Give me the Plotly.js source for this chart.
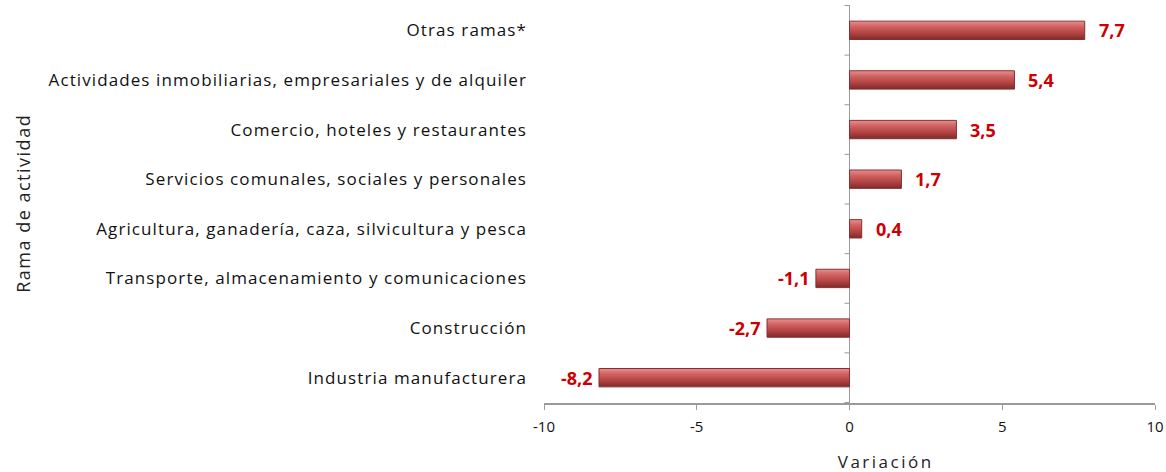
<!DOCTYPE html>
<html>
<head>
<meta charset="utf-8">
<script src="https://cdn.plot.ly/plotly-3.0.1.min.js"></script>
<style>
  body { margin: 0; background: #fff; }
  #chart { width: 1166px; height: 472px; }
  /* el original tiene las letras bastante espaciadas */
  #chart .ytick text { letter-spacing: 1.1px; }
</style>
</head>
<body>
<div id="chart"></div>
<script>
// ramas de actividad, de arriba hacia abajo
var ramas = [
  'Otras ramas*',
  'Actividades inmobiliarias, empresariales y de alquiler',
  'Comercio, hoteles y restaurantes',
  'Servicios comunales, sociales y personales',
  'Agricultura, ganadería, caza, silvicultura y pesca',
  'Transporte, almacenamiento y comunicaciones',
  'Construcción',
  'Industria manufacturera'
];
var variacion = [7.7, 5.4, 3.5, 1.7, 0.4, -1.1, -2.7, -8.2];
var xTicks = [-10, -5, 0, 5, 10];

var trace = {
  type: 'bar',
  orientation: 'h',
  x: variacion,
  y: ramas,
  marker: {
    color: '#bd4a4a',
    line: { color: '#873030', width: 1 }
  },
  hoverinfo: 'x+y'
};

// etiquetas de valor, separadas del extremo de la barra
var annotations = [];
for (var k = 0; k < variacion.length; k++) {
  var v = variacion[k];
  annotations.push({
    x: v, y: ramas[k], xref: 'x', yref: 'y',
    text: v.toFixed(1).replace('.', ','),
    showarrow: false,
    xanchor: v >= 0 ? 'left' : 'right',
    xshift: v >= 0 ? 12 : -4,
    font: { family: 'Open Sans, sans-serif', size: 18, color: '#cc0000', weight: 'bold' }
  });
}
annotations.push({
  xref: 'paper', yref: 'paper', x: (23 - 544) / 611, y: 0.5,
  xanchor: 'center', yanchor: 'middle',
  text: 'Rama de actividad', textangle: -90, showarrow: false,
  font: { size: 18, color: '#222' }
});
annotations.push({
  xref: 'paper', yref: 'paper', x: (885 - 544) / 611, y: -(461 - 403) / 398,
  xanchor: 'center', yanchor: 'middle',
  text: 'Variación', showarrow: false,
  font: { size: 17, color: '#222' }
});

// pequeñas marcas del eje vertical (sobre el cero, entre categorias)
var shapes = [];
for (var i = 0; i <= ramas.length; i++) {
  shapes.push({
    type: 'line',
    xref: 'x', yref: 'y',
    xsizemode: 'pixel', xanchor: 0,
    x0: -5, x1: 0,
    y0: i - 0.5, y1: i - 0.5,
    line: { color: '#9a9a9a', width: 1 }
  });
}

var layout = {
  width: 1166,
  height: 472,
  margin: { l: 544, r: 11, t: 5, b: 69 },
  paper_bgcolor: '#ffffff',
  plot_bgcolor: '#ffffff',
  separators: ',.',
  showlegend: false,
  bargap: 0.63,
  font: { family: 'Open Sans, sans-serif', size: 15, color: '#111' },
  xaxis: {
    range: [-10, 10],
    tickvals: xTicks,
    ticktext: xTicks.map(String),
    showgrid: false,
    zeroline: true,
    zerolinecolor: '#9a9a9a',
    zerolinewidth: 1.5,
    showline: true,
    linecolor: '#9a9a9a',
    linewidth: 1.5,
    ticks: 'outside',
    ticklen: 5,
    tickcolor: '#9a9a9a',
    ticklabelstandoff: 4,
    tickfont: { size: 15, color: '#111' }
  },
  yaxis: {
    type: 'category',
    autorange: 'reversed',
    showgrid: false,
    showline: false,
    zeroline: false,
    ticks: '',
    ticklabelstandoff: 16,
    tickfont: { size: 17, color: '#111' }
  },
  annotations: annotations,
  shapes: shapes
};

Plotly.newPlot('chart', [trace], layout, { displayModeBar: false, staticPlot: true }).then(function (gd) {
  // degradado vertical en las barras para imitar el relieve del original
  var svg = gd.querySelector('.main-svg');
  var ns = 'http://www.w3.org/2000/svg';
  var defs = svg.querySelector('defs') || svg.insertBefore(document.createElementNS(ns, 'defs'), svg.firstChild);
  var grad = document.createElementNS(ns, 'linearGradient');
  grad.setAttribute('id', 'barraGrad');
  grad.setAttribute('x1', '0'); grad.setAttribute('y1', '0');
  grad.setAttribute('x2', '0'); grad.setAttribute('y2', '1');
  [['0', '#e89090'], ['0.3', '#d06262'], ['0.65', '#b44444'], ['1', '#7e2a2a']].forEach(function (s) {
    var stop = document.createElementNS(ns, 'stop');
    stop.setAttribute('offset', s[0]);
    stop.setAttribute('stop-color', s[1]);
    grad.appendChild(stop);
  });
  defs.appendChild(grad);
  gd.querySelectorAll('.bars .point path').forEach(function (p) {
    p.style.fill = 'url(#barraGrad)';
  });
  gd.querySelectorAll('.annotation-text').forEach(function (t) {
    if (t.textContent === 'Variación') t.style.letterSpacing = '2.5px';
    if (t.textContent === 'Rama de actividad') t.style.letterSpacing = '1.5px';
  });
});
</script>
</body>
</html>
